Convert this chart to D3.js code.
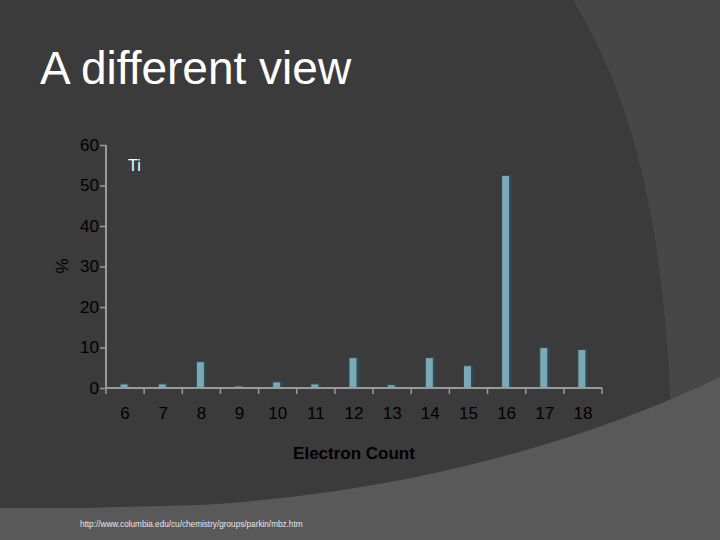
<!DOCTYPE html>
<html><head><meta charset="utf-8">
<script src="https://cdn.jsdelivr.net/npm/d3@7"></script>
<style>body{margin:0;background:#474747}svg{display:block}</style>
</head><body><svg width="720" height="540"></svg>
<script>
const categories = ["6","7","8","9","10","11","12","13","14","15","16","17","18"];
const values = [1, 1, 6.5, 0.5, 1.5, 1, 7.5, 0.8, 7.5, 5.5, 52.5, 10, 9.5];
const yTicks = [0, 10, 20, 30, 40, 50, 60];

const svg = d3.select("svg");
const narrow = "Liberation Sans Narrow, Arial Narrow, Liberation Sans, Arial";
// slide background
svg.append("rect").attr("width", 720).attr("height", 540).attr("fill", "#474747");
svg.append("path").attr("d", "M0,0 L573,0 C640,110 676,260 672,540 L0,540 Z").attr("fill", "#3b3b3b");
svg.append("path").attr("d", "M720,377 C600,435 420,492 200,505 L80,508 L0,508 L0,540 L720,540 Z").attr("fill", "#595959");

svg.append("text").attr("x", 40).attr("y", 84).attr("fill", "#fff")
  .attr("font-family", "Liberation Sans, Arial").attr("font-size", 46).text("A different view");

const pLeft = 106, pRight = 602, pTop = 145, pBottom = 388;
const x = d3.scaleBand().domain(categories).range([pLeft, pRight]);
const y = d3.scaleLinear().domain([0, 60]).range([pBottom, pTop]);

const g = svg.append("g");
const bw = 8;
g.selectAll(".side").data(values).enter().append("rect")
  .attr("x", (d, i) => x(categories[i]) + x.bandwidth() / 2 - bw / 2 - 1 + bw)
  .attr("y", d => y(d) - 1).attr("width", 2).attr("height", d => pBottom - y(d))
  .attr("fill", "#2f4a52");
g.selectAll(".bar").data(values).enter().append("rect")
  .attr("x", (d, i) => x(categories[i]) + x.bandwidth() / 2 - bw / 2 - 1)
  .attr("y", d => y(d)).attr("width", bw).attr("height", d => pBottom - y(d))
  .attr("fill", "#7aa9b8").attr("stroke", "#2f4a52").attr("stroke-width", 1);

const axisColor = "#9a9a9a";
const xa = g.append("g").attr("transform", `translate(0,${pBottom})`)
  .call(d3.axisBottom(x).tickSize(0).tickPadding(19));
xa.select(".domain").attr("stroke", axisColor).attr("stroke-width", 2).attr("d", `M${pLeft},0H${pRight}`);
xa.selectAll("text").attr("fill", "#000").attr("font-size", 17).attr("font-family", narrow);
g.selectAll(".xt").data(categories.concat([null])).enter().append("line")
  .attr("x1", (d, i) => pLeft + i * x.step()).attr("x2", (d, i) => pLeft + i * x.step())
  .attr("y1", pBottom).attr("y2", pBottom + 6).attr("stroke", axisColor).attr("stroke-width", 1.5);

const ya = g.append("g").attr("transform", `translate(${pLeft},0)`)
  .call(d3.axisLeft(y).tickValues(yTicks).tickSize(6).tickPadding(1));
ya.select(".domain").attr("stroke", axisColor).attr("stroke-width", 2).attr("d", `M0,${pBottom}V${pTop}`);
ya.selectAll(".tick line").attr("stroke", axisColor).attr("stroke-width", 1.5);
ya.selectAll("text").attr("fill", "#000").attr("font-size", 17).attr("font-family", narrow);

svg.append("text").attr("transform", "translate(68,266) rotate(-90)").attr("text-anchor", "middle")
  .attr("fill", "#000").attr("font-size", 17).attr("font-family", narrow).text("%");
svg.append("text").attr("x", 354).attr("y", 459).attr("text-anchor", "middle").attr("fill", "#000")
  .attr("font-weight", "bold").attr("font-size", 17).attr("font-family", narrow).text("Electron Count");
svg.append("text").attr("x", 128).attr("y", 171).attr("fill", "#fff")
  .attr("font-size", 16).attr("font-family", narrow).text("Ti");
svg.append("text").attr("x", 80).attr("y", 527).attr("fill", "#e8e8e8")
  .attr("font-size", 8.2).attr("font-family", "Liberation Sans, Arial")
  .text("http://www.columbia.edu/cu/chemistry/groups/parkin/mbz.htm");
</script></body></html>
